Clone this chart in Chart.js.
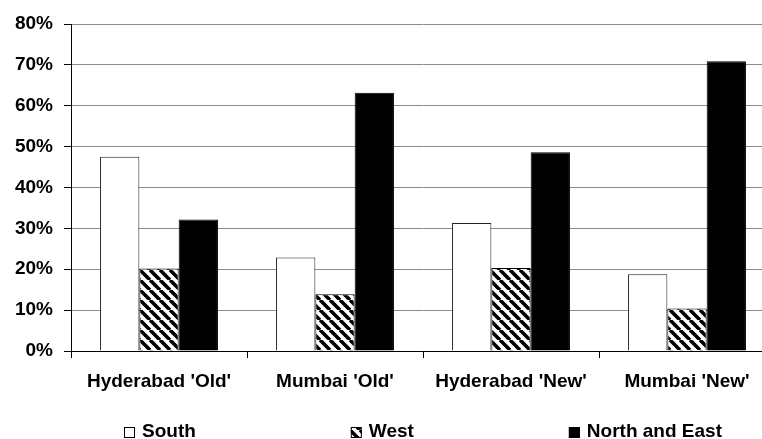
<!DOCTYPE html>
<html><head><meta charset="utf-8">
<style>html,body{margin:0;padding:0;background:#fff;overflow:hidden;width:762px;height:439px}
canvas{display:block}</style>
<script src="https://cdn.jsdelivr.net/npm/chart.js@4.4.1/dist/chart.umd.min.js"></script>
</head><body>
<canvas id="c" width="790" height="439"></canvas>
<script>
const categories = ["Hyderabad 'Old'", "Mumbai 'Old'", "Hyderabad 'New'", "Mumbai 'New'"];
const seriesNames = ["South", "West", "North and East"];
const south = [47.5, 22.9, 31.3, 18.8];
const west = [20.2, 13.9, 20.3, 10.4];
const northEast = [32.2, 63.2, 48.6, 70.9];
const yTicks = [0, 10, 20, 30, 40, 50, 60, 70, 80];

const FONT = '"Liberation Sans", Arial, sans-serif';
const canvas = document.getElementById('c');
const mainCtx = canvas.getContext('2d');

function hatchPattern() {
  const s = 10;
  const c = document.createElement('canvas');
  c.width = s; c.height = s;
  const x = c.getContext('2d');
  x.fillStyle = '#fff'; x.fillRect(0, 0, s, s);
  x.strokeStyle = '#000'; x.lineWidth = 3.6;
  x.beginPath();
  for (let k = -1; k <= 1; k++) { x.moveTo(k * s, 0); x.lineTo(k * s + s, s); }
  x.stroke();
  return mainCtx.createPattern(c, 'repeat');
}
const hatch = hatchPattern();

const legendPlugin = {
  id: 'customLegend',
  afterDraw(chart) {
    const ctx = chart.ctx;
    ctx.save();
    ctx.font = 'bold 19px ' + FONT;
    const box = 11, gapBox = 7, gap = 155;
    const items = chart.data.datasets.map(d => ({
      text: d.label, fill: d.backgroundColor,
      w: box + gapBox + ctx.measureText(d.label).width
    }));
    const total = items.reduce((a, i) => a + i.w, 0) + gap * (items.length - 1);
    let x = Math.round((chart.chartArea.left + chart.chartArea.right) / 2 - total / 2);
    const y = 432;
    items.forEach(it => {
      const y0 = Math.round(y - box / 2);
      ctx.fillStyle = it.fill;
      ctx.fillRect(x, y0, box, box);
      ctx.strokeStyle = '#000'; ctx.lineWidth = 1;
      ctx.strokeRect(x + 0.5, y0 + 0.5, box - 1, box - 1);
      ctx.fillStyle = '#000';
      ctx.textBaseline = 'middle';
      ctx.textAlign = 'left';
      ctx.fillText(it.text, x + box + gapBox, y);
      x += it.w + gap;
    });
    ctx.restore();
  }
};

new Chart(canvas, {
  type: 'bar',
  data: {
    labels: categories,
    datasets: [
      { label: seriesNames[0], data: south, backgroundColor: '#fff', borderColor: '#222', borderWidth: 1 },
      { label: seriesNames[1], data: west, backgroundColor: hatch, borderColor: '#000', borderWidth: 1 },
      { label: seriesNames[2], data: northEast, backgroundColor: '#000', borderColor: '#000', borderWidth: 1 }
    ]
  },
  options: {
    responsive: false,
    animation: false,
    layout: { padding: { top: 24, right: 15, left: 0, bottom: 0 } },
    plugins: { legend: { display: false }, tooltip: { enabled: false } },
    datasets: { bar: { categoryPercentage: 0.67, barPercentage: 1 } },
    scales: {
      x: {
        grid: { offset: true, drawOnChartArea: false, tickLength: 7, color: '#000', tickColor: '#000' },
        border: { color: '#000', width: 1 },
        ticks: { font: { family: FONT, size: 19, weight: 'bold' }, color: '#000', padding: 12, maxRotation: 0 },
        afterFit(s) { s.height = 88; }
      },
      y: {
        min: 0, max: 80,
        afterBuildTicks(s) { s.ticks = yTicks.map(v => ({ value: v })); },
        grid: { color: c => (c.tick && c.tick.value === 0 ? '#000' : '#8c8c8c'), tickLength: 7, tickColor: '#000' },
        border: { color: '#000', width: 1 },
        ticks: { callback: v => v + '%', font: { family: FONT, size: 19, weight: 'bold' }, color: '#000', padding: 11 },
        afterFit(s) { s.width = 71; }
      }
    }
  },
  plugins: [legendPlugin]
});
</script>
</body></html>
